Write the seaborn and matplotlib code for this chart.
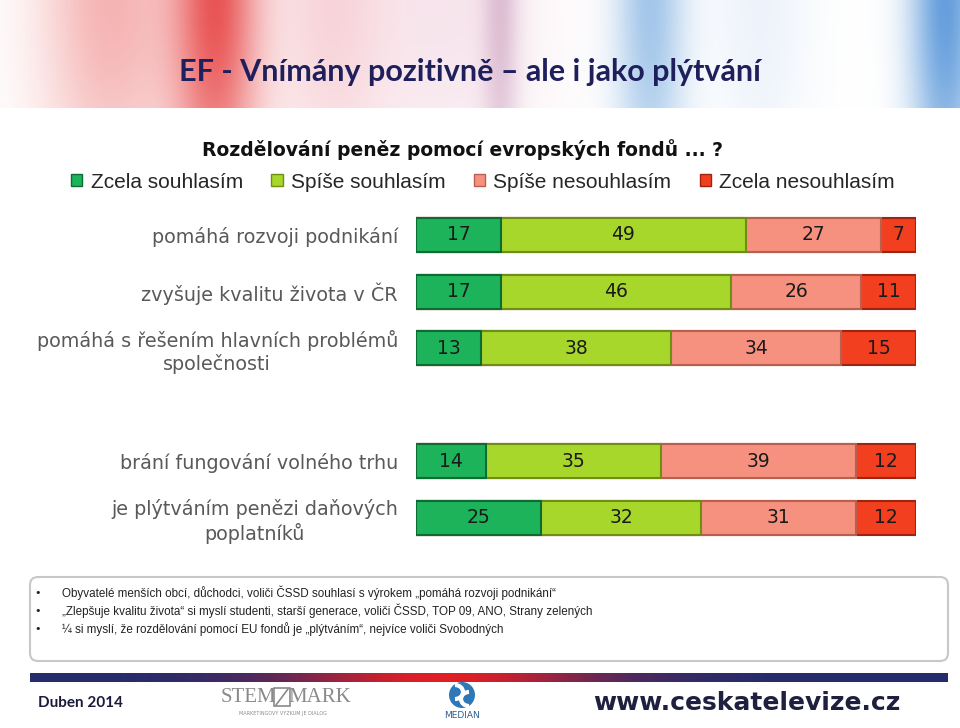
import numpy as np
import pandas as pd
import seaborn as sns
import matplotlib.pyplot as plt
from matplotlib import font_manager
from matplotlib.patches import Patch, FancyBboxPatch, Circle, Rectangle, Arc

# data
categories = [
    "pomáhá rozvoji podnikání",
    "zvyšuje kvalitu života v ČR",
    "pomáhá s řešením hlavních problémů\nspolečnosti",
    "brání fungování volného trhu",
    "je plýtváním penězi daňových\npoplatníků",
]
zcela_souhlasim = [17, 17, 13, 14, 25]
spise_souhlasim = [49, 46, 38, 35, 32]
spise_nesouhlasim = [27, 26, 34, 39, 31]
zcela_nesouhlasim = [7, 11, 15, 12, 12]

series_names = ["Zcela souhlasím", "Spíše souhlasím", "Spíše nesouhlasím", "Zcela nesouhlasím"]
colors = ["#1DB35A", "#A8D72C", "#F7917F", "#F23F1F"]
edges = ["#0D6B34", "#6E8F14", "#B8604F", "#9E2410"]

bullets = [
    "Obyvatelé menších obcí, důchodci, voliči ČSSD souhlasí s výrokem „pomáhá rozvoji podnikání“",
    "„Zlepšuje kvalitu života“ si myslí studenti, starší generace, voliči ČSSD, TOP 09, ANO, Strany zelených",
    "¼ si myslí, že rozdělování pomocí EU fondů je „plýtváním“, nejvíce voliči Svobodných",
]

df = pd.DataFrame({
    "otazka": categories,
    "v1": zcela_souhlasim,
    "v2": spise_souhlasim,
    "v3": spise_nesouhlasim,
    "v4": zcela_nesouhlasim,
})
df["c1"] = df["v1"]
df["c2"] = df["c1"] + df["v2"]
df["c3"] = df["c2"] + df["v3"]
df["c4"] = df["c3"] + df["v4"]

order = categories[:3] + [" "] + categories[3:]

sns.set_theme(style="white")
plt.rcParams["font.family"] = ["DejaVu Sans"]

# narrow font for the bullet text / legend if it is there
installed = {f.name for f in font_manager.fontManager.ttflist}
if "Liberation Sans Narrow" in installed:
    narrow, bullet_size = "Liberation Sans Narrow", 10.5
else:
    narrow, bullet_size = "Liberation Sans", 8.4

fig = plt.figure(figsize=(9.6, 7.28), dpi=100)

# background / decoration layer in pixel coordinates
bg = fig.add_axes([0, 0, 1, 1], zorder=0)
bg.set_xlim(0, 960)
bg.set_ylim(728, 0)
bg.axis("off")

# watercolor-like banner
xs = np.arange(960)[None, :]
ys = np.arange(108)[:, None]
img = np.ones((108, 960, 3))
blobs = [
    (110, 70, 0.45, (0.92, 0.35, 0.35)),
    (215, 45, 0.85, (0.90, 0.22, 0.22)),
    (330, 60, 0.35, (0.93, 0.55, 0.60)),
    (450, 90, 0.25, (0.88, 0.60, 0.72)),
    (500, 18, 0.30, (0.62, 0.32, 0.55)),
    (650, 35, 0.55, (0.35, 0.60, 0.85)),
    (760, 50, 0.15, (0.55, 0.70, 0.90)),
    (945, 35, 0.75, (0.20, 0.50, 0.82)),
]
fade = 0.75 + 0.25 * np.cos(ys / 108 * np.pi / 2)
for cx, sw, st, c in blobs:
    w = st * np.exp(-((xs - cx) / sw) ** 2) * fade
    w = w[..., None]
    img = img * (1 - w) + np.array(c)[None, None, :] * w
bg.imshow(img, extent=(0, 960, 108, 0), aspect="auto", zorder=0)

bg.text(470, 72, "EF - Vnímány pozitivně – ale i jako plýtvání", ha="center", va="center",
        fontsize=22, fontweight="bold", family="Lato", color="#1F1F5C")
bg.text(462, 150, "Rozdělování peněz pomocí evropských fondů ... ?", ha="center", va="center",
        fontsize=13.5, fontweight="bold", color="#111111")

# bullet box
box = FancyBboxPatch((30, 577), 918, 84, boxstyle="round,pad=0,rounding_size=8",
                     facecolor="white", edgecolor="#C8C8C8", linewidth=1.5)
bg.add_patch(box)
for i, line in enumerate(bullets):
    yy = 593 + i * 18
    bg.text(34, yy, "•", ha="left", va="center", fontsize=8, color="#222222")
    bg.text(62, yy, line, ha="left", va="center", fontsize=bullet_size, family=narrow,
            color="#222222")

# footer stripe
grad = np.linspace(0, 1, 918)
red_w = np.exp(-((grad - 0.45) / 0.17) ** 2)
navy = np.array([0.15, 0.17, 0.42])
red = np.array([0.88, 0.12, 0.15])
stripe = navy[None, :] * (1 - red_w[:, None]) + red[None, :] * red_w[:, None]
bg.imshow(stripe[None, :, :], extent=(30, 948, 682, 673), aspect="auto", zorder=1)

bg.text(38, 703, "Duben 2014", ha="left", va="center", fontsize=11, fontweight="bold",
        family="Lato", color="#1A1A3A")
bg.text(248, 697, "STEM", ha="center", va="center", fontsize=15, family="Liberation Serif",
        color="#8A8A8A")
bg.add_patch(Rectangle((274, 688), 16, 18, facecolor="white", edgecolor="#8A8A8A", linewidth=1.2))
bg.plot([276, 288], [705, 689], color="#8A8A8A", linewidth=1.2)
bg.text(320, 697, "MARK", ha="center", va="center", fontsize=15, family="Liberation Serif",
        color="#8A8A8A")
bg.text(283, 713, "MARKETINGOVÝ VÝZKUM JE DIALOG", ha="center", va="center", fontsize=3.5,
        color="#8A8A8A")
bg.add_patch(Circle((462, 695), 13, facecolor="#2E78B7", edgecolor="none"))
bg.add_patch(Arc((455, 692), 16, 14, theta1=270, theta2=90, color="white", linewidth=3))
bg.add_patch(Arc((469, 699), 16, 14, theta1=90, theta2=270, color="white", linewidth=3))
bg.text(462, 716, "MEDIAN", ha="center", va="center", fontsize=6.5, color="#2E5E8E")
bg.text(900, 703, "www.ceskatelevize.cz", ha="right", va="center", fontsize=18,
        fontweight="bold", color="#1F1F3F")

# main stacked bars
ax = fig.add_axes([416 / 960, 1 - 546.3 / 728, 500 / 960, 339.6 / 728], zorder=2)
ax.set_facecolor("none")
cum_cols = ["c1", "c2", "c3", "c4"]
for k in [3, 2, 1, 0]:
    sns.barplot(data=df, x=cum_cols[k], y="otazka", order=order, orient="h",
                color=colors[k], edgecolor=edges[k], linewidth=1.5, width=0.6,
                saturation=1, errorbar=None, ax=ax)

val_cols = ["v1", "v2", "v3", "v4"]
for _, row in df.iterrows():
    ypos = order.index(row["otazka"])
    start = 0
    for k in range(4):
        v = row[val_cols[k]]
        ax.text(start + v / 2, ypos, str(v), ha="center", va="center", fontsize=13.5,
                color="#1A1A1A")
        start += v

ax.set_xlim(0, 100)
ax.set_xlabel("")
ax.set_ylabel("")
ax.set_xticks([])
sns.despine(ax=ax, left=True, bottom=True)
ax.tick_params(axis="y", length=0, pad=13, labelsize=13.8, labelcolor="#595959")
for lbl in ax.get_yticklabels():
    lbl.set_multialignment("center")

handles = [Patch(facecolor=c, edgecolor=e, linewidth=1) for c, e in zip(colors, edges)]
fig.legend(handles, series_names, loc="center", bbox_to_anchor=(483 / 960, 1 - 182 / 728),
           ncol=4, frameon=False, handlelength=0.55, handleheight=0.55,
           handletextpad=0.4, columnspacing=1.35, prop={"family": "Liberation Sans", "size": 15})

fig.savefig("out.png", dpi=100, facecolor="white")
